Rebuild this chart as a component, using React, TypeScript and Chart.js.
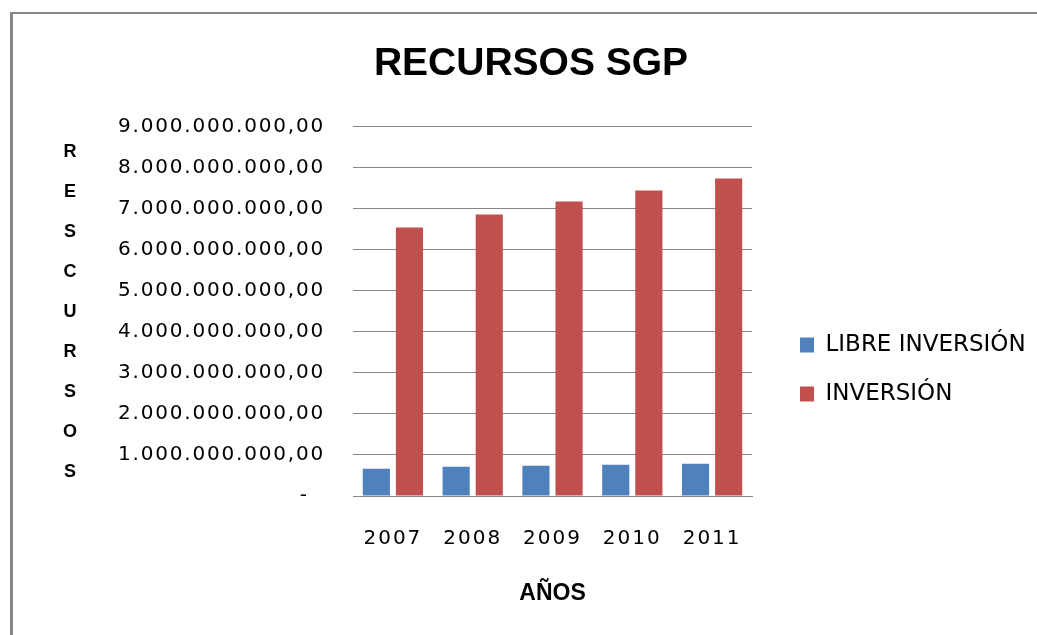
import React, { useEffect, useRef } from 'react';
import { Chart, registerables } from 'chart.js';

Chart.register(...registerables);

const chartTitle = 'RECURSOS SGP';
const xAxisTitle = 'AÑOS';
const yAxisTitle = 'RESCURSOS';
const years = ['2007', '2008', '2009', '2010', '2011'];
const seriesNames = ['LIBRE INVERSIÓN', 'INVERSIÓN'];
const libreInversion = [665000000, 713000000, 737000000, 762000000, 786000000];
const inversion = [6548000000, 6864000000, 7180000000, 7447000000, 7739000000];
const yTickLabels = [
  '-  ',
  '1.000.000.000,00',
  '2.000.000.000,00',
  '3.000.000.000,00',
  '4.000.000.000,00',
  '5.000.000.000,00',
  '6.000.000.000,00',
  '7.000.000.000,00',
  '8.000.000.000,00',
  '9.000.000.000,00',
];

const BLUE = '#4F81BD';
const RED = '#C0504D';
const GRID = '#868686';
const SANS = '"DejaVu Sans", sans-serif';
const BOLD = '"Liberation Sans", Arial, sans-serif';

export default function App() {
  const ref = useRef<HTMLCanvasElement>(null);

  useEffect(() => {
    const canvas = ref.current;
    if (!canvas) return;

    const tickSpacing: any = {
      id: 'tickSpacing',
      afterLayout(chart: any) {
        const spacing: Record<string, string> = { x: '2px', y: '1.8px' };
        for (const id of ['x', 'y']) {
          const s = chart.scales[id];
          if (!s || s.__ls) continue;
          const orig = s.drawLabels.bind(s);
          s.drawLabels = (area: any) => {
            const c = s.ctx;
            const prev = c.letterSpacing;
            c.letterSpacing = spacing[id];
            orig(area);
            c.letterSpacing = prev || '0px';
          };
          s.__ls = true;
        }
      },
    };

    const legendPlace: any = {
      id: 'legendPlace',
      afterLayout(chart: any) {
        const lg = chart.legend;
        if (!lg) return;
        lg.left += 22;
        lg.right += 22;
        lg.top += 52;
        lg.bottom += 52;
      },
    };

    const stackedTitle: any = {
      id: 'stackedTitle',
      afterDraw(chart: any) {
        const ctx = chart.ctx;
        const { top, bottom } = chart.chartArea;
        const letters = yAxisTitle.split('');
        const n = letters.length;
        const step = 40;
        const cy = (top + bottom) / 2 + 1;
        const x = chart.scales.y.left + 10;
        ctx.save();
        ctx.font = 'bold 18px ' + BOLD;
        ctx.fillStyle = '#000';
        ctx.textAlign = 'center';
        ctx.textBaseline = 'middle';
        letters.forEach((l, i) => {
          ctx.fillText(l, x, cy + (i - (n - 1) / 2) * step);
        });
        ctx.restore();
      },
    };

    const chart = new Chart(canvas, {
      type: 'bar',
      data: {
        labels: years,
        datasets: [
          {
            label: seriesNames[0],
            data: libreInversion,
            backgroundColor: BLUE,
            categoryPercentage: 0.83,
            barPercentage: 0.82,
          },
          {
            label: seriesNames[1],
            data: inversion,
            backgroundColor: RED,
            categoryPercentage: 0.83,
            barPercentage: 0.82,
          },
        ],
      },
      options: {
        animation: false,
        responsive: true,
        maintainAspectRatio: false,
        events: [],
        layout: { padding: { left: 60, right: 35, top: 0, bottom: 0 } },
        plugins: {
          tooltip: { enabled: false },
          title: {
            display: true,
            text: chartTitle,
            color: '#000',
            font: { family: BOLD, size: 39, weight: 'bold' },
            padding: { top: 41, bottom: 39 },
          },
          legend: {
            display: true,
            position: 'right',
            align: 'center',
            maxWidth: 250,
            labels: {
              boxWidth: 14,
              boxHeight: 15,
              padding: 26,
              color: '#000',
              font: { family: SANS, size: 23 },
            },
          },
        },
        scales: {
          x: {
            grid: { display: false, drawTicks: false },
            border: { display: true, color: GRID, width: 1 },
            ticks: {
              color: '#000',
              font: { family: SANS, size: 20 },
              padding: 31,
              autoSkip: false,
              maxRotation: 0,
            },
            title: {
              display: true,
              text: xAxisTitle,
              color: '#000',
              font: { family: BOLD, size: 23, weight: 'bold' },
              padding: { top: 0, bottom: 28 },
            },
            afterFit(scale: any) {
              scale.height = 139;
            },
          },
          y: {
            min: 0,
            max: 9000000000,
            grid: { color: GRID, lineWidth: 1, drawTicks: false },
            border: { display: false },
            ticks: {
              stepSize: 1000000000,
              color: '#000',
              font: { family: SANS, size: 20 },
              padding: 28,
              callback: (value: any) => yTickLabels[Math.round(Number(value) / 1000000000)],
            },
            afterFit(scale: any) {
              scale.width = 293;
            },
          },
        },
      },
      plugins: [tickSpacing, legendPlace, stackedTitle],
    } as any);

    return () => chart.destroy();
  }, []);

  return (
    <>
      <div
        style={{
          position: 'fixed',
          left: 10,
          top: 12,
          width: 1027,
          height: 623,
          borderLeft: '3px solid #878787',
          borderTop: '2px solid #878787',
          boxSizing: 'border-box',
          background: '#fff',
        }}
      />
      <div style={{ position: 'fixed', left: 0, top: 0, width: 1037, height: 635 }}>
        <canvas ref={ref} />
      </div>
    </>
  );
}
